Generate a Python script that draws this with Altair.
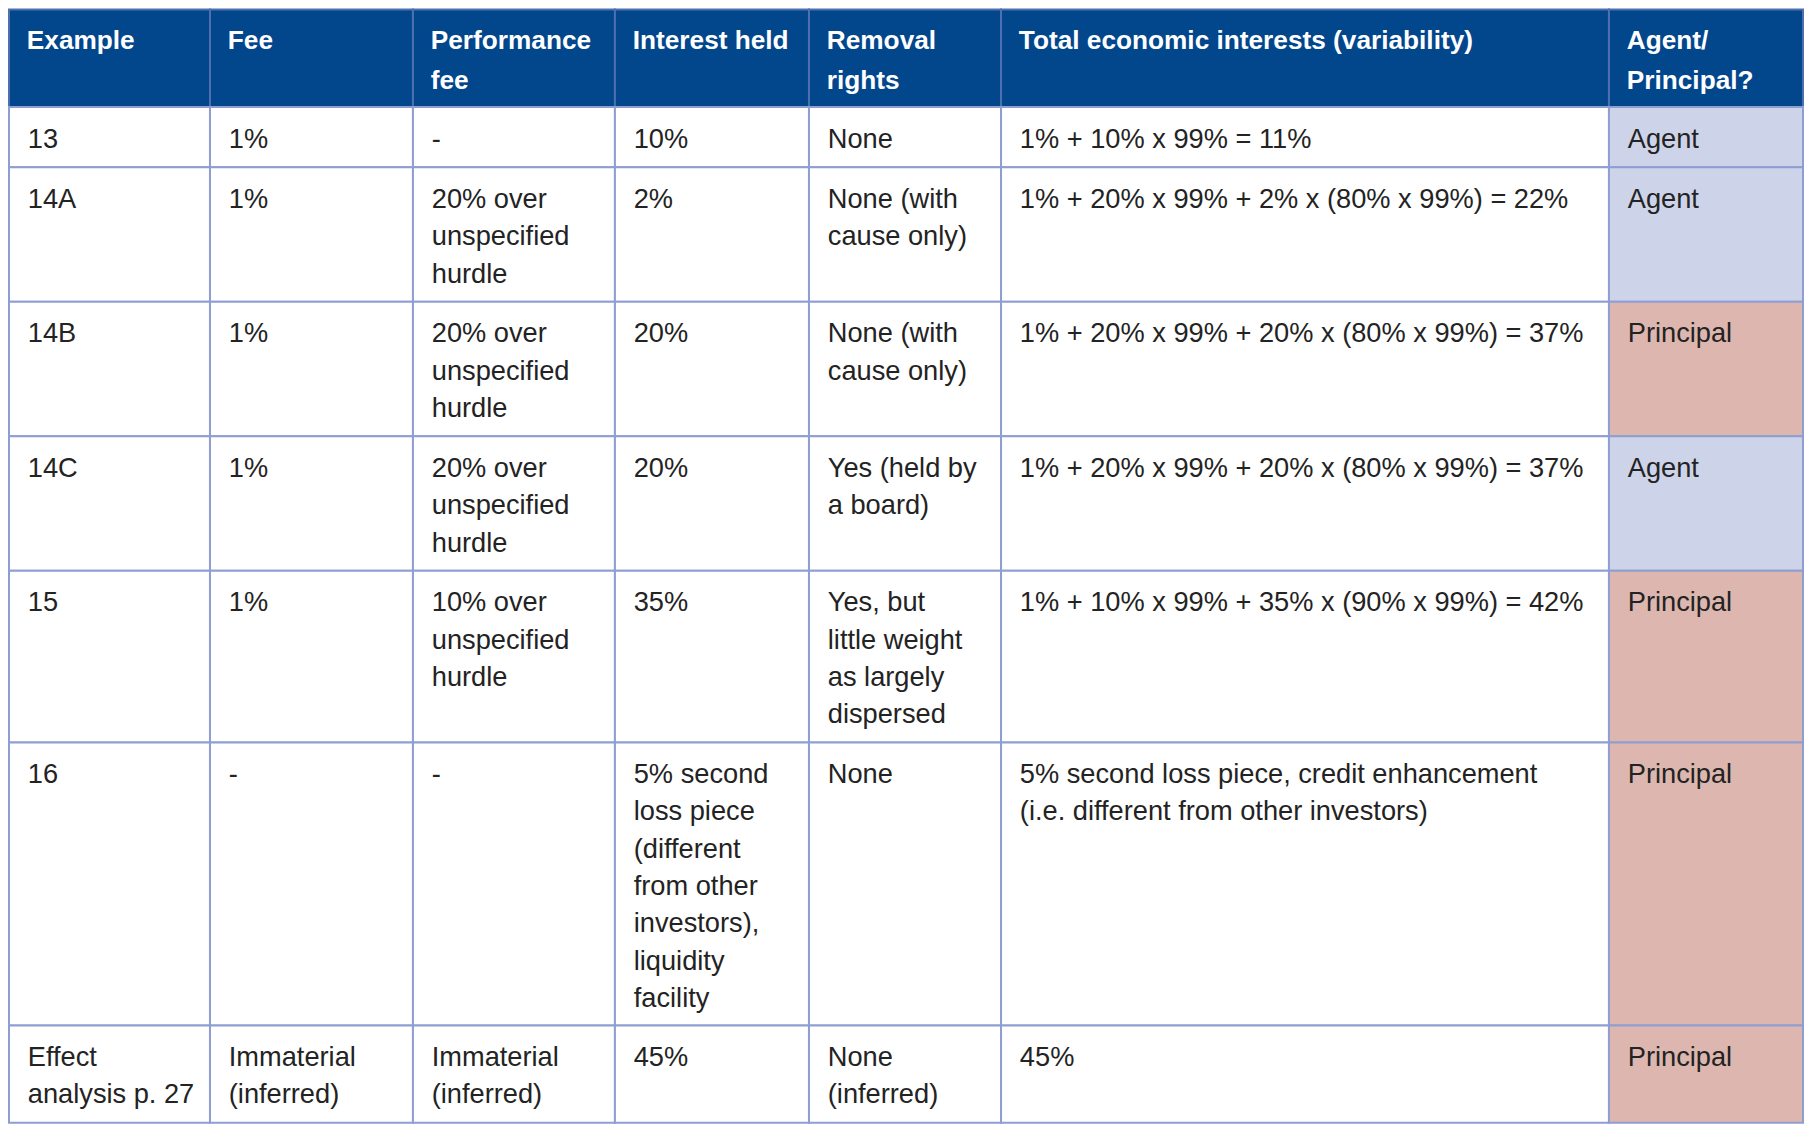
import altair as alt
import pandas as pd

# ---- table content ----
headers = ["Example", "Fee", "Performance\nfee", "Interest held", "Removal\nrights",
           "Total economic interests (variability)", "Agent/\nPrincipal?"]
example = ["13", "14A", "14B", "14C", "15", "16", "Effect\nanalysis p. 27"]
fee = ["1%", "1%", "1%", "1%", "1%", "-", "Immaterial\n(inferred)"]
performance_fee = ["-",
                   "20% over\nunspecified\nhurdle",
                   "20% over\nunspecified\nhurdle",
                   "20% over\nunspecified\nhurdle",
                   "10% over\nunspecified\nhurdle",
                   "-",
                   "Immaterial\n(inferred)"]
interest_held = ["10%", "2%", "20%", "20%", "35%",
                 "5% second\nloss piece\n(different\nfrom other\ninvestors),\nliquidity\nfacility",
                 "45%"]
removal_rights = ["None", "None (with\ncause only)", "None (with\ncause only)",
                  "Yes (held by\na board)", "Yes, but\nlittle weight\nas largely\ndispersed",
                  "None", "None\n(inferred)"]
total_interests = ["1% + 10% x 99% = 11%",
                   "1% + 20% x 99% + 2% x (80% x 99%) = 22%",
                   "1% + 20% x 99% + 20% x (80% x 99%) = 37%",
                   "1% + 20% x 99% + 20% x (80% x 99%) = 37%",
                   "1% + 10% x 99% + 35% x (90% x 99%) = 42%",
                   "5% second loss piece, credit enhancement\n(i.e. different from other investors)",
                   "45%"]
verdict = ["Agent", "Agent", "Principal", "Agent", "Principal", "Principal", "Principal"]

# ---- layout / style ----
col_widths = [203, 205, 204, 196, 194, 614, 196]
LINE_H = 37.7
ROW_PAD = 23.5
FULL_W, FULL_H = 1812, 1130
W, H = 1796, 1114
s = W / FULL_W

HEADER_BG = "#02468C"
GRID = "#8E9ED2"
HEADER_GRID = "#4F70AE"
AGENT_BG = "#CDD4E9"
PRINCIPAL_BG = "#DDB7AF"
TEXT = "#232323"

body_cols = [example, fee, performance_fee, interest_held, removal_rights, total_interests, verdict]
n_rows = len(example)

# column boundaries
xb = [0]
for w in col_widths:
    xb.append(xb[-1] + w)

records = []
hdr_lines = max(h.count("\n") + 1 for h in headers)
y0 = 0.0
y1 = y0 + ROW_PAD + LINE_H * hdr_lines
for c, h in enumerate(headers):
    records.append(dict(x0=xb[c], x1=xb[c + 1], y0=y0, y1=y1, text=h,
                        fill=HEADER_BG, stroke=HEADER_GRID, kind="header"))
y0 = y1
for r in range(n_rows):
    lines = max(col[r].count("\n") + 1 for col in body_cols)
    y1 = y0 + ROW_PAD + LINE_H * lines
    for c, col in enumerate(body_cols):
        if c == len(body_cols) - 1:
            fill = AGENT_BG if col[r] == "Agent" else PRINCIPAL_BG
        else:
            fill = "#FFFFFF"
        records.append(dict(x0=xb[c], x1=xb[c + 1], y0=y0, y1=y1, text=col[r],
                            fill=fill, stroke=GRID, kind="body"))
    y0 = y1

df = pd.DataFrame(records)

xs = alt.Scale(domain=[0, FULL_W], range=[0, W], nice=False, zero=False)
ys = alt.Scale(domain=[0, FULL_H], range=[0, H], nice=False, zero=False)

base = alt.Chart(df)

cells = base.mark_rect(strokeWidth=2).encode(
    x=alt.X("x0:Q", scale=xs, axis=None),
    x2="x1:Q",
    y=alt.Y("y0:Q", scale=ys, axis=None),
    y2="y1:Q",
    fill=alt.Fill("fill:N", scale=None),
    stroke=alt.Stroke("stroke:N", scale=None),
)

hdr_text = base.transform_filter(alt.datum.kind == "header").mark_text(
    align="left", baseline="alphabetic", dx=18 * s, dy=40 * s,
    font="Liberation Sans", fontSize=26.5 * s, fontWeight="bold",
    lineBreak="\n", lineHeight=40 * s, color="#FFFFFF",
).encode(
    x=alt.X("x0:Q", scale=xs, axis=None),
    y=alt.Y("y0:Q", scale=ys, axis=None),
    text="text:N",
)

body_text = base.transform_filter(alt.datum.kind == "body").mark_text(
    align="left", baseline="alphabetic", dx=19 * s, dy=41 * s,
    font="Liberation Sans", fontSize=27.5 * s,
    lineBreak="\n", lineHeight=LINE_H * s, color=TEXT,
).encode(
    x=alt.X("x0:Q", scale=xs, axis=None),
    y=alt.Y("y0:Q", scale=ys, axis=None),
    text="text:N",
)

chart = alt.layer(cells, hdr_text, body_text).properties(
    width=W, height=H, padding=0
).configure_view(stroke=None)

chart.save("out.html", embed_options={"renderer": "svg", "actions": False})
